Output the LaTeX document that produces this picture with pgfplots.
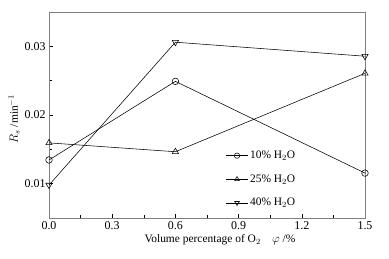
\documentclass[border=0pt]{standalone}
\usepackage{pgfplots}
\pgfplotsset{compat=1.18}
\usepackage{fontspec}
\setmainfont{Liberation Serif}
\begin{document}
\begin{tikzpicture}
\path[use as bounding box] (-49bp,-41bp) rectangle (340bp,218bp);
\begin{axis}[
  at={(0,0)}, anchor=south west,
  scale only axis, width=316bp, height=206bp,
  xmin=0, xmax=1.5, ymin=0.005, ymax=0.035,
  xtick={0,0.3,0.6,0.9,1.2,1.5},
  ytick={0.01,0.02,0.03},
  minor xtick={0.15,0.45,0.75,1.05,1.35},
  minor ytick={0.005,0.015,0.025},
  tick pos=left, tick align=inside,
  major tick length=4bp, minor tick length=3bp,
  axis line style={gray},
  every tick/.style={black},
  /pgf/number format/assume math mode=true,
  xticklabel style={/pgf/number format/.cd, fixed, fixed zerofill, precision=1},
  yticklabel style={/pgf/number format/.cd, fixed, fixed zerofill, precision=2},
  scaled y ticks=false,
  tick label style={font=\fontsize{12}{14}\selectfont},
  xlabel={Volume percentage of O$_2$\quad $\varphi$ /\%},
  ylabel={$R_s$ /min$^{-1}$},
  label style={font=\fontsize{11.5}{13}\selectfont},
  xlabel style={xshift=13bp, yshift=2bp},
  ylabel style={yshift=-2bp, xshift=-4bp},
  legend style={at={(0.55,0.345)}, anchor=north west, draw=none, fill=none,
    font=\fontsize{11.5}{13}\selectfont, /tikz/row sep=10.5bp},
  legend cell align=left,
  legend image code/.code={
    \draw[mark repeat=2,mark phase=2,mark size=2.7pt] plot coordinates {(0cm,0cm) (0.38cm,0cm) (0.76cm,0cm)};},
]
\addplot[black, line width=0.55pt, mark=o, mark size=3.3pt, mark options={fill=white, solid}] coordinates {(0,0.01345) (0.6,0.0249) (1.5,0.01154)};
\addlegendentry{10\% H$_2$O}
\addplot[black, line width=0.55pt, mark=triangle, mark size=3.6pt, mark options={fill=white, solid}] coordinates {(0,0.01594) (0.6,0.01465) (1.5,0.02607)};
\addlegendentry{25\% H$_2$O}
\addplot[black, line width=0.55pt, mark=triangle, mark size=3.6pt, mark options={fill=white, solid, rotate=180}] coordinates {(0,0.0098) (0.6,0.0306) (1.5,0.02856)};
\addlegendentry{40\% H$_2$O}
\end{axis}
\end{tikzpicture}
\end{document}
